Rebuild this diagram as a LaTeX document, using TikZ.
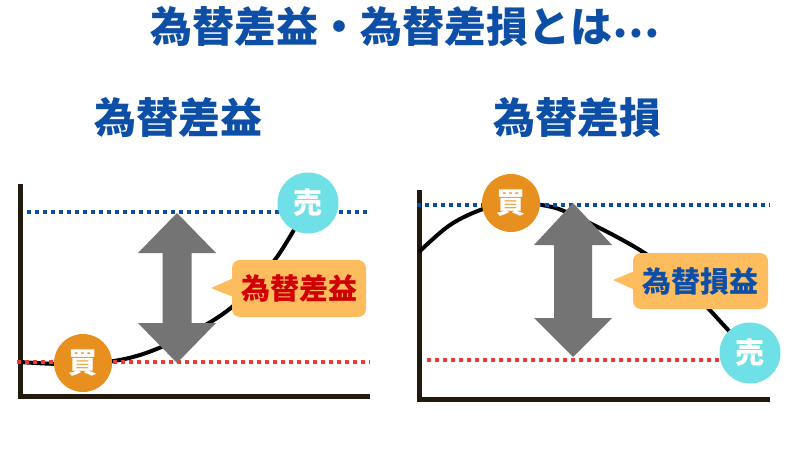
\documentclass[tikz,border=0pt]{standalone}
\usepackage{fontspec}
\setmainfont{Noto Sans CJK JP}
\usetikzlibrary{calc}
\definecolor{tblue}{HTML}{0D4EA6}
\definecolor{dblue}{HTML}{0A4EA2}
\definecolor{dred}{HTML}{EC3B37}
\definecolor{buyc}{HTML}{E8901F}
\definecolor{sellc}{HTML}{6EE0E6}
\definecolor{callc}{HTML}{FDBD5F}
\definecolor{arrc}{HTML}{747474}
\definecolor{axc}{HTML}{231A0E}
\definecolor{gainred}{HTML}{D10000}
\tikzset{
  titletext/.style={text=tblue, font=\fontsize{42}{42}\selectfont\bfseries, inner sep=0pt},
  axisline/.style={draw=axc, line width=5pt},
  dotblue/.style={draw=dblue, line width=4pt, dash pattern=on 4pt off 4pt},
  dotred/.style={draw=dred, line width=4pt, dash pattern=on 4pt off 4pt},
  curveline/.style={draw=black, line width=4pt},
  bigarrow/.style={fill=arrc, draw=none},
  calloutbox/.style={fill=callc, rounded corners=8pt, inner sep=0pt},
  callouttext/.style={font=\fontsize{29}{29}\selectfont\bfseries, inner sep=0pt},
  buy/.style={circle, fill=buyc, minimum size=58pt, inner sep=0pt, text=white, font=\fontsize{29}{29}\selectfont\bfseries},
  sell/.style={circle, fill=sellc, minimum size=61pt, inner sep=0pt, text=white, font=\fontsize{29}{29}\selectfont\bfseries}
}
\begin{document}
\begin{tikzpicture}[x=1pt,y=-1pt]
\useasboundingbox[fill=white] (0,0) rectangle (800,450);
% titles
\node[titletext] (title) at (405,27) {為替差益・為替差損とは\raisebox{5pt}{⋯}};
\node[titletext] (subL) at (178,118) {為替差益};
\node[titletext] (subR) at (577,118) {為替差損};

% ---------- left chart ----------
\coordinate (lyt) at (20,184);
\coordinate (lo) at (20,396);
\coordinate (lxr) at (370,396);
\draw[axisline] (lyt) -- (lo) -- (lxr);
\draw[curveline] plot[smooth, tension=0.6] coordinates {(20,362) (83,364) (140,355) (200,328) (240,300) (277,257) (308,205)};
\coordinate (lb1) at (27,212); \coordinate (lb2) at (370,212);
\coordinate (lr1) at (17,362); \coordinate (lr2) at (370,362);
\draw[dotblue] (lb1) -- (lb2);
\draw[dotred] (lr1) -- (lr2);
\fill[bigarrow] (177,213) -- (216,253) -- (191.5,253) -- (191.5,323) -- (216,323) -- (177,363) -- (138,323) -- (162.5,323) -- (162.5,253) -- (138,253) -- cycle;
\fill[callc] (211,288) -- (236,277) -- (236,298) -- cycle;
\node[calloutbox, minimum width=134pt, minimum height=57pt] (calL) at (299,288.5) {};
\node[callouttext, text=gainred] (calLt) at (calL.center) {為替差益};
\node[buy] (buyL) at (83,363) {買};
\node[sell] (sellL) at (308,203) {売};

% ---------- right chart ----------
\coordinate (ryt) at (419,190);
\coordinate (ro) at (419,399);
\coordinate (rxr) at (770,399);
\draw[axisline] (ryt) -- (ro) -- (rxr);
\draw[curveline] plot[smooth, tension=0.6] coordinates {(419,252) (450,225) (483,209) (511,203) (542,205) (573,215) (643,252) (690,290) (730,332) (750,353)};
\coordinate (rb1) at (417,205); \coordinate (rb2) at (770,205);
\coordinate (rr1) at (427,360); \coordinate (rr2) at (770,360);
\draw[dotblue] (rb1) -- (rb2);
\draw[dotred] (rr1) -- (rr2);
\fill[bigarrow] (573,203) -- (612,245) -- (592,245) -- (592,318) -- (612,318) -- (573,357) -- (534,318) -- (554,318) -- (554,245) -- (534,245) -- cycle;
\fill[callc] (613,280) -- (637,270) -- (637,291) -- cycle;
\node[calloutbox, minimum width=135pt, minimum height=56pt] (calR) at (700.5,281) {};
\node[callouttext, text=tblue] (calRt) at (calR.center) {為替損益};
\node[buy] (buyR) at (511,203) {買};
\node[sell] (sellR) at (750,353) {売};
\end{tikzpicture}
\end{document}
